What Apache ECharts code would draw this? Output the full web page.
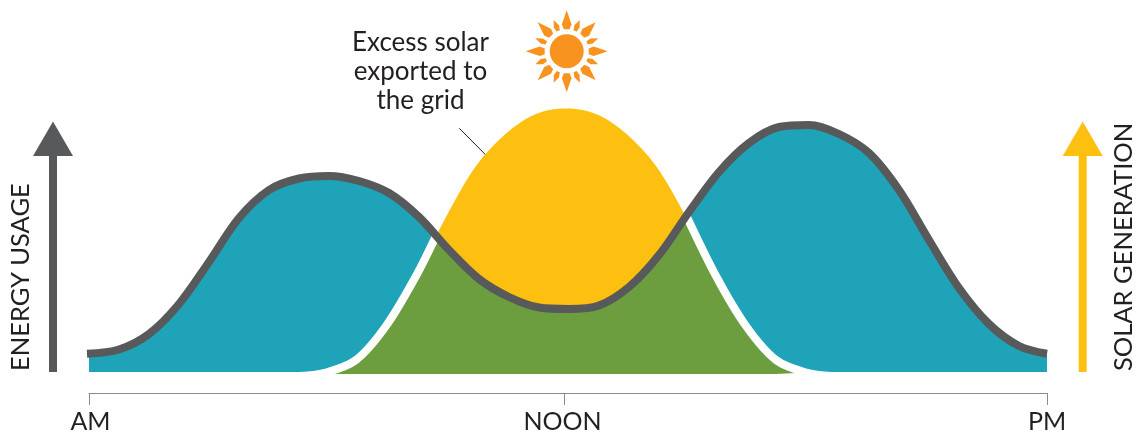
<!DOCTYPE html>
<html>
<head>
<meta charset="utf-8">
<style>
  html, body { margin: 0; padding: 0; background: #fff; }
  #chart { width: 1138px; height: 439px; }
</style>
<script src="https://cdn.jsdelivr.net/npm/echarts@6/dist/echarts.min.js"></script>
</head>
<body>
<div id="chart"></div>
<script>
const tickValues = [0, 475, 958];
const labelValues = [1.5, 473.5, 958];
const tickLabels = ["AM", "NOON", "PM"];

const usageX = [-2, 30, 60, 90, 120, 150, 180, 210, 240, 270, 300, 330, 360, 390, 420, 450, 480, 510, 540, 570, 600, 630, 660, 690, 720, 750, 780, 810, 840, 870, 900, 930, 958];
const usageY = [18.3, 22.5, 38, 68, 110, 154, 182, 193.5, 196, 191, 179, 155, 122, 93, 75, 64.5, 63, 66.5, 85, 117, 160, 200, 229, 245, 247, 238, 219, 182, 132, 84, 48, 26, 18.3];

const solarX = [211, 237, 267, 297, 327, 357, 387, 417, 447, 477, 507, 537, 567, 597, 627, 657, 687, 717, 743];
const solarY = [-4, -0.5, 12, 46, 96, 155, 206, 238.5, 258, 263.5, 258, 238.5, 206, 155, 96, 46, 12, -0.5, -4];

// where the two curves cross
const crossLeft = [347, 136];
const crossRight = [597, 157];

const usage = usageX.map((x, i) => [x, usageY[i]]);
const solar = solarX.map((x, i) => [x, solarY[i]]);
const solarLeft = solar.filter((p) => p[0] < crossLeft[0]).concat([crossLeft]);
const solarRight = [crossRight].concat(solar.filter((p) => p[0] > crossRight[0]));
const usageMiddle = usage.filter((p) => p[0] > crossLeft[0] && p[0] < crossRight[0]);
const overlap = solarLeft
  .filter((p) => p[1] > -2)
  .concat(usageMiddle, solarRight.filter((p) => p[1] > -2));

const BLUE = "#1fa3b8";
const GREEN = "#6c9e40";
const YELLOW = "#fec010";
const GREY = "#58595b";
const SUN = "#f7931e";
const INK = "#231f20";
const FONT = "Lato";
const SMOOTH = 0.33;

const area = (name, data, color, origin, smooth) => ({
  name,
  type: "line",
  data,
  smooth: smooth ? SMOOTH : false,
  showSymbol: false,
  clip: false,
  silent: true,
  lineStyle: { width: 0 },
  itemStyle: { color },
  areaStyle: { color, opacity: 1, origin },
});

const stroke = (name, data, color) => ({
  name,
  type: "line",
  data,
  smooth: SMOOTH,
  showSymbol: false,
  clip: false,
  silent: true,
  lineStyle: { width: 8, color, cap: "butt" },
  itemStyle: { color },
});

const sunRays = [];
for (let i = 0; i < 16; i++) {
  const long = i % 2 === 0;
  const tip = long ? 41 : 34;
  const base = 22;
  const w = long ? 4.8 : 2.8;
  sunRays.push({
    type: "polygon",
    rotation: (-i * Math.PI) / 8,
    shape: {
      points: [
        [0, -tip],
        [w, -base - 5],
        [w * 0.6, -base],
        [-w * 0.6, -base],
        [-w, -base - 5],
      ],
    },
    style: { fill: SUN },
  });
}

const arrow = (x, color) => ({
  type: "group",
  children: [
    { type: "rect", shape: { x: x - 4, y: 155, width: 8, height: 217 }, style: { fill: color } },
    {
      type: "polygon",
      shape: { points: [[x, 121.5], [x + 20, 156], [x - 20, 156]] },
      style: { fill: color },
    },
  ],
});

const sideText = (text, x, y) => ({
  type: "text",
  x,
  y,
  rotation: Math.PI / 2,
  style: { text, font: `25.5px ${FONT}`, fill: INK, textAlign: "left", textVerticalAlign: "middle" },
});

const myChart = echarts.init(document.getElementById("chart"));
myChart.setOption({
  animation: false,
  backgroundColor: "#fff",
  grid: { left: 89, right: 91, top: 72, bottom: 46 },
  xAxis: {
    type: "value",
    min: 0,
    max: 958,
    splitLine: { show: false },
    axisLine: { show: true, onZero: false, lineStyle: { color: "#8a8b8d", width: 1 } },
    axisTick: { show: true, length: 12, customValues: tickValues, lineStyle: { color: "#8a8b8d", width: 1 } },
    axisLabel: {
      show: true,
      customValues: labelValues,
      margin: 16,
      formatter: (v) => tickLabels[labelValues.indexOf(v)],
      fontFamily: FONT,
      fontSize: 25,
      color: INK,
    },
  },
  yAxis: {
    type: "value",
    min: -21,
    max: 300,
    show: false,
    splitLine: { show: false },
  },
  series: [
    area("Energy usage", usage, BLUE, 0, true),
    area("Solar generation", solar, YELLOW, 0, true),
    area("Solar used on site", overlap, GREEN, -2, false),
    stroke("Solar edge left", solarLeft, "#ffffff"),
    stroke("Solar edge right", solarRight, "#ffffff"),
    stroke("Usage line", usage, GREY),
  ],
  graphic: [
    arrow(53, GREY),
    arrow(1082.7, YELLOW),
    sideText("ENERGY USAGE", 21, 371),
    sideText("SOLAR GENERATION", 1124, 371),
    {
      type: "text",
      x: 420.5,
      y: 72,
      style: {
        text: "Excess solar\nexported to\nthe grid",
        font: `26px ${FONT}`,
        lineHeight: 29,
        fill: INK,
        textAlign: "center",
        textVerticalAlign: "middle",
      },
    },
    {
      type: "line",
      shape: { x1: 459.3, y1: 128.3, x2: 500.7, y2: 170 },
      style: { stroke: INK, lineWidth: 1 },
    },
    {
      type: "group",
      x: 566.7,
      y: 51.3,
      children: [
        { type: "circle", shape: { r: 17 }, style: { fill: SUN } },
        ...sunRays,
      ],
    },
  ],
});
window.addEventListener("resize", () => {
  myChart.resize();
});
</script>
</body>
</html>
